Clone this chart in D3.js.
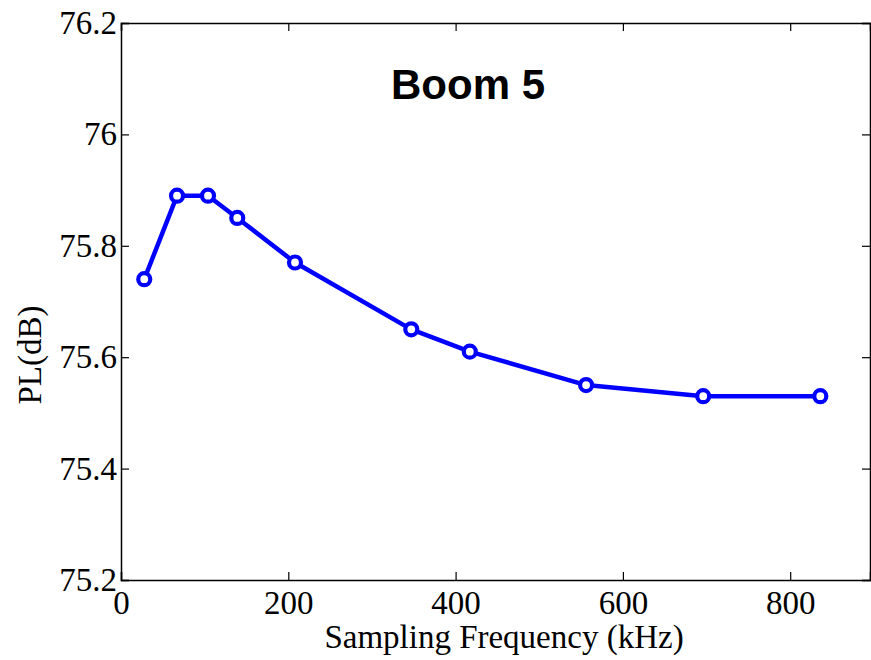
<!DOCTYPE html>
<html>
<head>
<meta charset="utf-8">
<script src="https://cdn.jsdelivr.net/npm/d3@7"></script>
<style>
html,body{margin:0;padding:0;background:#fff;}
svg{display:block;}
</style>
</head>
<body>
<svg id="chart" width="871" height="660"></svg>
<script>
const freqs = [27.8, 67, 104, 139, 208, 347, 417, 556, 696, 836];
const plValues = [75.74, 75.89, 75.89, 75.85, 75.77, 75.65, 75.61, 75.55, 75.53, 75.53];
const xTicks = [0, 200, 400, 600, 800];
const yTicks = [75.2, 75.4, 75.6, 75.8, 76, 76.2];
const titleText = "Boom 5";
const xLabel = "Sampling Frequency (kHz)";
const yLabel = "PL(dB)";

(function () {
const svg = d3.select("#chart");
const mLeft = 121, mRight = 870, mTop = 23, mBottom = 580;
const x = d3.scaleLinear().domain([0, 895.4]).range([mLeft, mRight]);
const y = d3.scaleLinear().domain([75.2, 76.2]).range([mBottom, mTop]);
const font = "'Liberation Serif','Times New Roman',serif";
const fs = 33;
const tickLen = 8;

const gB = svg.append("g").attr("transform", `translate(0,${mBottom})`)
  .call(d3.axisBottom(x).tickValues(xTicks).tickSize(-tickLen).tickPadding(12).tickFormat(d3.format("d")));
const gT = svg.append("g").attr("transform", `translate(0,${mTop})`)
  .call(d3.axisTop(x).tickValues(xTicks).tickSize(-tickLen).tickFormat(""));
const gL = svg.append("g").attr("transform", `translate(${mLeft},0)`)
  .call(d3.axisLeft(y).tickValues(yTicks).tickSize(-tickLen).tickPadding(4).tickFormat(d => String(+d.toFixed(1))));
const gR = svg.append("g").attr("transform", `translate(${mRight},0)`)
  .call(d3.axisRight(y).tickValues(yTicks).tickSize(-tickLen).tickFormat(""));

[gB, gT, gL, gR].forEach(g => {
  g.select(".domain").attr("stroke", "#000").attr("stroke-width", 1.5);
  g.selectAll(".tick line").attr("stroke", "#000").attr("stroke-width", 1.2);
  g.selectAll("text").attr("font-family", font).attr("font-size", fs).attr("fill", "#000");
});
gB.selectAll("text").attr("dy", "0.66em");
gL.selectAll("text").attr("dy", "0.32em");

const line = d3.line().x((d, i) => x(freqs[i])).y(d => y(d));
svg.append("path").datum(plValues)
  .attr("d", line).attr("fill", "none").attr("stroke", "#0000ff")
  .attr("stroke-width", 4.5).attr("stroke-linejoin", "round");

svg.selectAll("circle.pt").data(plValues).join("circle")
  .attr("class", "pt")
  .attr("cx", (d, i) => x(freqs[i])).attr("cy", d => y(d))
  .attr("r", 6).attr("fill", "#fff").attr("stroke", "#0000ff").attr("stroke-width", 4.2);

svg.append("text").attr("x", 468).attr("y", 99).attr("text-anchor", "middle")
  .attr("font-family", "'Liberation Sans',Arial,sans-serif").attr("font-weight", "bold")
  .attr("font-size", 42).attr("fill", "#000").text(titleText);

svg.append("text").attr("x", 504).attr("y", 648).attr("text-anchor", "middle")
  .attr("font-family", font).attr("font-size", fs).attr("fill", "#000").text(xLabel);

svg.append("text").attr("transform", "translate(41,355) rotate(-90)").attr("text-anchor", "middle")
  .attr("font-family", font).attr("font-size", fs).attr("fill", "#000").text(yLabel);
})();
</script>
</body>
</html>
